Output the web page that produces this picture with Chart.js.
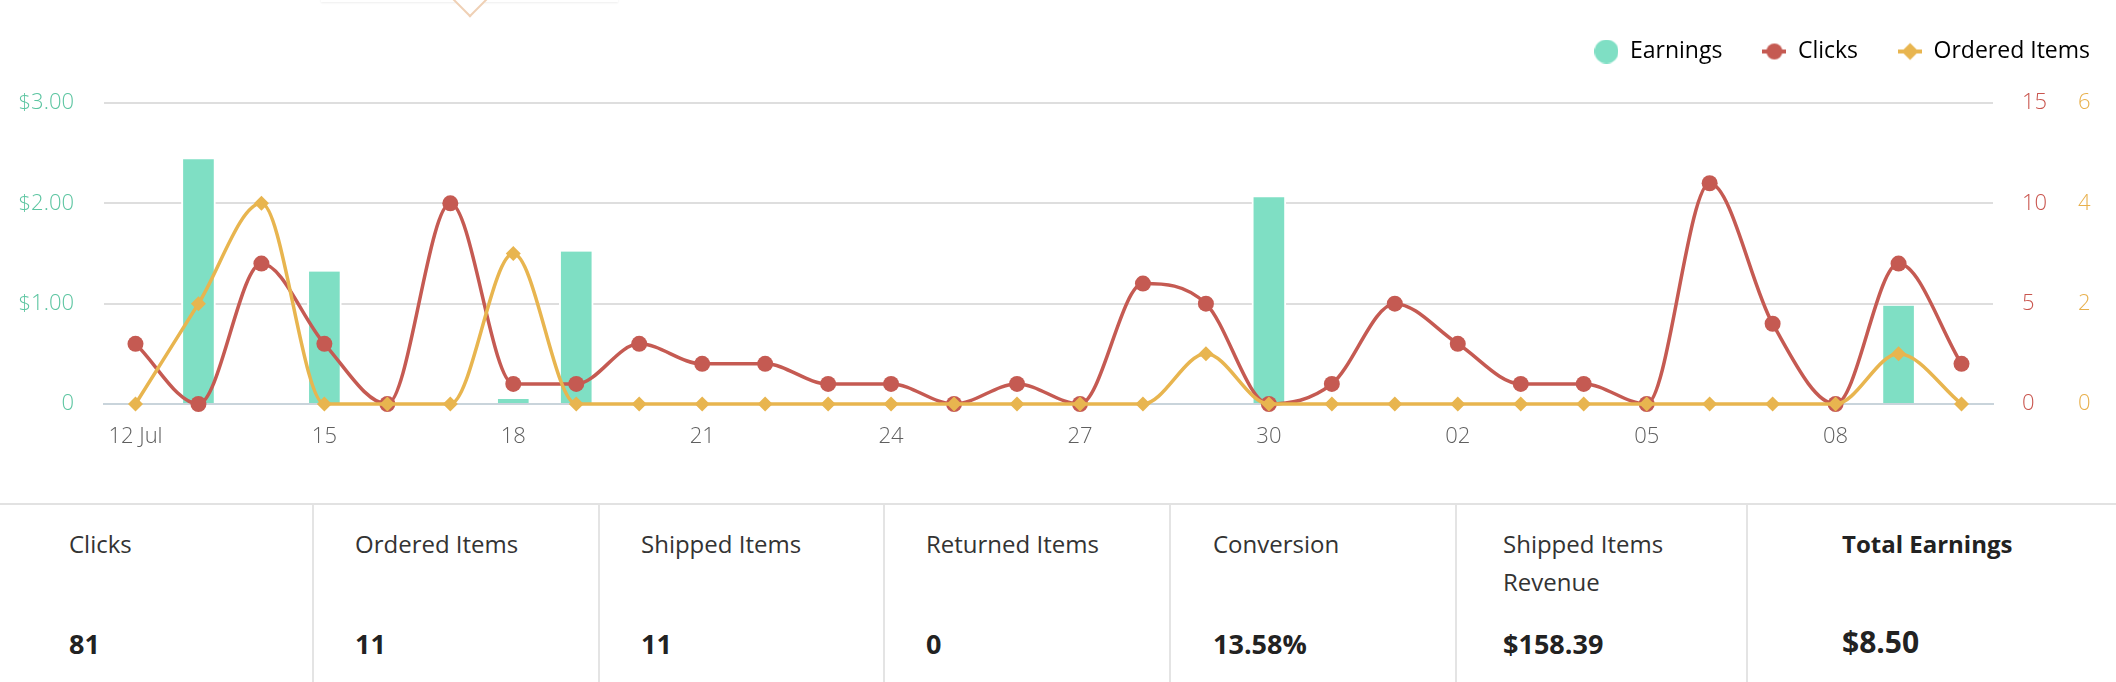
<!DOCTYPE html>
<html>
<head>
<meta charset="utf-8">
<script src="https://cdn.jsdelivr.net/npm/chart.js@4.4.1/dist/chart.umd.min.js"></script>
<style>
  html, body { margin: 0; padding: 0; background: #fff; }
  body {
    width: 2116px; height: 682px; overflow: hidden; position: relative;
    font-family: "Open Sans", sans-serif; color: #333;
  }
  #chart-wrap { position: absolute; left: 0; top: 0; width: 2130px; height: 460px; }
  .flyout {
    position: absolute; left: 321px; top: -40px; width: 297px; height: 42px;
    background: #fff; box-shadow: 0 1px 2px rgba(0, 0, 0, 0.07);
  }
  .caret {
    position: absolute; left: 457px; top: -14px; width: 26px; height: 26px;
    box-sizing: border-box; background: #fff; transform: rotate(45deg);
    border-right: 2px solid #efd0b5; border-bottom: 2px solid #efd0b5;
  }
  #stats {
    position: absolute; left: 0; top: 503px; width: 2116px; height: 179px;
    border-top: 2px solid #e2e2e2;
  }
  .sep { position: absolute; top: 0; bottom: 0; width: 2px; background: #e4e4e4; }
  .stat-label {
    position: absolute; top: 20px; font-size: 24px; line-height: 38px;
    white-space: pre-line; color: #333;
  }
  .stat-value {
    position: absolute; top: 120px; font-size: 27px; line-height: 38px;
    font-weight: 700; color: #222;
  }
  .stat-value.total { font-size: 30px; top: 118px; }
</style>
</head>
<body>
<div class="flyout"></div>
<div class="caret"></div>
<div id="chart-wrap"><canvas id="js-chart-canvas" width="2130" height="460"></canvas></div>
<div id="stats"></div>
<script>
// daily numbers, 12 Jul - 10 Aug
const days = [
  "12 Jul", "13", "14", "15", "16", "17", "18", "19", "20", "21",
  "22", "23", "24", "25", "26", "27", "28", "29", "30", "31",
  "01", "02", "03", "04", "05", "06", "07", "08", "09", "10",
];
const earnings = [
  0, 2.44, 0, 1.32, 0, 0, 0.05, 1.52, 0, 0,
  0, 0, 0, 0, 0, 0, 0, 0, 2.06, 0,
  0, 0, 0, 0, 0, 0, 0, 0, 0.98, 0,
];
const clicks = [
  3, 0, 7, 3, 0, 10, 1, 1, 3, 2,
  2, 1, 1, 0, 1, 0, 6, 5, 0, 1,
  5, 3, 1, 1, 0, 11, 4, 0, 7, 2,
];
const orderedItems = [
  0, 2, 4, 0, 0, 0, 3, 0, 0, 0,
  0, 0, 0, 0, 0, 0, 0, 1, 0, 0,
  0, 0, 0, 0, 0, 0, 0, 0, 1, 0,
];

const earningsTicks = [0, 1, 2, 3];
const clicksTicks = [0, 5, 10, 15];
const orderedTicks = [0, 2, 4, 6];

const statLabels = [
  "Clicks", "Ordered Items", "Shipped Items", "Returned Items",
  "Conversion", "Shipped Items\nRevenue", "Total Earnings",
];
const statValues = ["81", "11", "11", "0", "13.58%", "$158.39", "$8.50"];

const GREEN = "#7fdfc4";
const RED = "#c55a52";
const ORANGE = "#e8b54f";

// summary row below the chart
const statsEl = document.getElementById("stats");
const sepXs = [313, 599, 884, 1170, 1456, 1747];
const textXs = [69, 355, 641, 926, 1213, 1503, 1842];
sepXs.forEach((x) => {
  const d = document.createElement("div");
  d.className = "sep";
  d.style.left = x - 1 + "px";
  statsEl.appendChild(d);
});
statLabels.forEach((label, i) => {
  const last = i === statLabels.length - 1;
  const l = document.createElement("div");
  l.className = "stat-label";
  if (last) {
    l.style.fontWeight = "700";
    l.style.color = "#222";
  }
  l.style.left = textXs[i] + "px";
  l.textContent = label;
  statsEl.appendChild(l);

  const v = document.createElement("div");
  v.className = "stat-value" + (last ? " total" : "");
  v.style.left = textXs[i] + "px";
  v.textContent = statValues[i];
  statsEl.appendChild(v);
});

// legend markers: dot, line + dot, line + diamond
function legendMarker(kind, color) {
  const c = document.createElement("canvas");
  c.width = 24;
  c.height = 24;
  const g = c.getContext("2d");
  g.fillStyle = color;
  g.strokeStyle = color;
  if (kind === "dot") {
    g.beginPath();
    g.arc(12, 12, 12, 0, Math.PI * 2);
    g.fill();
    return c;
  }
  g.lineWidth = 4;
  g.beginPath();
  g.moveTo(0, 12);
  g.lineTo(24, 12);
  g.stroke();
  g.beginPath();
  if (kind === "circle") {
    g.arc(12, 12, 8, 0, Math.PI * 2);
  } else {
    g.moveTo(12, 3.5);
    g.lineTo(20.5, 12);
    g.lineTo(12, 20.5);
    g.lineTo(3.5, 12);
    g.closePath();
  }
  g.fill();
  return c;
}
const markers = [
  legendMarker("dot", GREEN),
  legendMarker("circle", RED),
  legendMarker("diamond", ORANGE),
];

Chart.defaults.font.family = '"Open Sans", sans-serif';

const canvasContext = document
  .querySelector("#js-chart-canvas")
  .getContext("2d");

const tickFont = { size: 22, weight: 300 };

const datasets = [
  {
    type: "bar",
    label: "Earnings",
    data: earnings,
    backgroundColor: GREEN,
    borderColor: "#ffffff",
    borderWidth: { left: 2, right: 2, top: 0, bottom: 0 },
    borderSkipped: false,
    barThickness: 34,
    yAxisID: "y",
    order: 3,
  },
  {
    type: "line",
    label: "Clicks",
    data: clicks,
    borderColor: RED,
    backgroundColor: RED,
    borderWidth: 3.5,
    pointRadius: 8,
    pointBorderWidth: 0,
    pointBackgroundColor: RED,
    cubicInterpolationMode: "monotone",
    clip: false,
    yAxisID: "y1",
    order: 2,
  },
  {
    type: "line",
    label: "Ordered Items",
    data: orderedItems,
    borderColor: ORANGE,
    backgroundColor: ORANGE,
    borderWidth: 3.5,
    pointStyle: "rectRot",
    pointRadius: 7.5,
    pointBorderWidth: 0,
    pointBackgroundColor: ORANGE,
    cubicInterpolationMode: "monotone",
    clip: false,
    yAxisID: "y2",
    order: 1,
  },
];

const options = {
  responsive: false,
  animation: false,
  layout: { padding: 0 },
  scales: {
    x: {
      grid: { display: false, drawTicks: false },
      border: { display: true, color: "#c9d4db", width: 2 },
      ticks: {
        autoSkip: false,
        maxRotation: 0,
        padding: 20,
        color: "#5f5f5f",
        font: tickFont,
        callback(value, index) {
          return index % 3 === 0 ? this.getLabelForValue(value) : "";
        },
      },
      afterFit(axis) {
        axis.height = 56;
      },
    },
    // empty spacer between the legend and the plot
    xTop: {
      type: "category",
      position: "top",
      grid: { display: false, drawTicks: false },
      border: { display: false },
      ticks: { display: false },
      afterFit(axis) {
        axis.height = 30;
      },
    },
    y: {
      position: "left",
      min: 0,
      max: 3,
      afterBuildTicks(axis) {
        axis.ticks = earningsTicks.map((v) => ({ value: v }));
      },
      grid: {
        drawTicks: false,
        lineWidth: 2,
        color: (c) => (c.tick && c.tick.value === 0 ? "#c9d4db" : "#dedede"),
      },
      border: { display: false },
      ticks: {
        padding: 30,
        color: "#5cc5a1",
        font: tickFont,
        callback: (v) => (v === 0 ? "0" : "$" + v.toFixed(2)),
      },
      afterFit(axis) {
        axis.width = 104;
      },
    },
    y1: {
      position: "right",
      min: 0,
      max: 15,
      afterBuildTicks(axis) {
        axis.ticks = clicksTicks.map((v) => ({ value: v }));
      },
      grid: { display: false, drawTicks: false },
      border: { display: false },
      ticks: { padding: 29, color: "#c9554e", font: tickFont },
      afterFit(axis) {
        axis.width = 58;
      },
    },
    y2: {
      position: "right",
      min: 0,
      max: 6,
      afterBuildTicks(axis) {
        axis.ticks = orderedTicks.map((v) => ({ value: v }));
      },
      grid: { display: false, drawTicks: false },
      border: { display: false },
      ticks: { padding: 27, color: "#e8b04c", font: tickFont },
      afterFit(axis) {
        axis.width = 79;
      },
    },
  },
  plugins: {
    tooltip: { enabled: false },
    legend: {
      position: "top",
      align: "end",
      labels: {
        usePointStyle: true,
        pointStyleWidth: 24,
        padding: 40,
        color: "#333333",
        font: { size: 23 },
        generateLabels(chart) {
          return chart.data.datasets.map((ds, i) => ({
            text: ds.label,
            pointStyle: markers[i],
            fillStyle: ds.backgroundColor,
            strokeStyle: ds.backgroundColor,
            lineWidth: 0,
            hidden: false,
            datasetIndex: i,
          }));
        },
      },
    },
  },
};

const weightChart = new Chart(canvasContext, {
  data: { labels: days, datasets: datasets },
  options: options,
});
</script>
</body>
</html>
